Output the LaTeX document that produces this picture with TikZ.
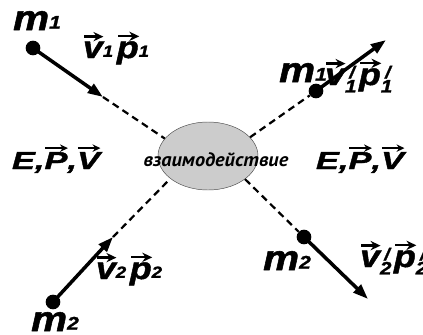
\documentclass[tikz,border=0pt]{standalone}
\usepackage{fontspec}
\setmainfont{Liberation Sans}
\newfontfamily\heavyfont[FakeStretch=1.15, FakeBold=1.5]{Liberation Sans}
\newfontfamily\widefont[FakeStretch=1.4, FakeBold=1.5]{Liberation Sans}
\newfontfamily\cyrfont[FakeStretch=1.05]{PT Sans}
\usetikzlibrary{shapes.geometric, arrows.meta}

\newlength{\vvw}
\newlength{\vvh}
\newcommand{\vv}[1]{\setbox0=\hbox{#1}\vvw=\wd0 \vvh=\ht0
  \rlap{\tikz[baseline=0pt]\draw[line width=0.075em, -{Stealth[length=0.32em, width=0.3em]}]
    (0.14em,\vvh+0.16em) -- (\vvw+0.12em,\vvh+0.16em);}\box0}
\newcommand{\ix}[1]{\raisebox{0.04em}{\scalebox{0.52}{#1}}}
\newcommand{\ixp}[1]{\rlap{\hspace{0.14em}\raisebox{0.22em}{\scalebox{0.55}{/}}}\raisebox{-0.24em}{\scalebox{0.58}{#1}}\hspace{0.08em}}

\begin{document}
\begin{tikzpicture}[x=0.03cm, y=-0.03cm,
    dot/.style={circle, fill, inner sep=0pt, minimum size=0.44cm},
    flight/.style={line width=3pt, -{Triangle[length=13pt, width=9pt]}},
    trace/.style={line width=1.9pt, dash pattern=on 6pt off 4pt},
    massfont/.style={font=\heavyfont\fontsize{30}{32}\selectfont\bfseries\itshape},
    vecfont/.style={font=\heavyfont\fontsize{26.5}{28}\selectfont\bfseries\itshape},
    conserved/.style={font=\widefont\fontsize{21}{24}\selectfont\bfseries\itshape}]
    \useasboundingbox (0,0) rectangle (423,334);

    \node (inter) [ellipse, draw=black!70, fill=black!20, minimum width=3cm, minimum height=2.04cm] at (208,156) {};
    \node (word) [font=\cyrfont\fontsize{16.5}{18}\selectfont\bfseries\itshape] at (216,160) {взаимодействие};

    \node (dotA) [dot] at (33,48) {};
    \coordinate (tipA) at (103,97);
    \draw[flight] (dotA.center) -- (tipA);
    \draw[trace] (tipA) -- (inter.158);

    \node (dotB) [dot] at (316,91) {};
    \coordinate (tipB) at (386,40);
    \draw[trace] (inter.24) -- (dotB);
    \draw[flight] (dotB.center) -- (tipB);

    \node (dotC) [dot] at (53,302) {};
    \coordinate (tipC) at (113,237);
    \draw[flight] (dotC.center) -- (tipC);
    \draw[trace] (tipC) -- (inter.211);

    \node (dotD) [dot] at (304,237) {};
    \coordinate (tipD) at (368,299);
    \draw[trace] (inter.328) -- (dotD);
    \draw[flight] (dotD.center) -- (tipD);

    \node (massA) [massfont, anchor=base] at (37,30) {m\ix{1}};
    \node (velA) [vecfont, anchor=base] at (116,58) {\vv{v}\ix{1}\hspace{0.12em}\vv{p}\ix{1}};
    \node (sumL) [conserved, anchor=base] at (56,169) {E,\vv{P},\vv{V}};
    \node (sumR) [conserved, anchor=base] at (360,169) {E,\vv{P},\vv{V}};
    \node (massB) [massfont, anchor=base] at (303,82) {m\ix{1}};
    \node (velB) [vecfont, anchor=base west] at (321,85) {\vv{v}\ixp{1}\vv{p}\ixp{1}};
    \node (velC) [vecfont, anchor=base] at (129,279) {\vv{v}\ix{2}\hspace{0.12em}\vv{p}\ix{2}};
    \node (massC) [massfont, anchor=base] at (55,331) {m\ix{2}};
    \node (massD) [massfont, anchor=base] at (287,270) {m\ix{2}};
    \node (velD) [vecfont, anchor=base west] at (356,267) {\vv{v}\ixp{2}\vv{p}\ixp{2}};
\end{tikzpicture}
\end{document}
